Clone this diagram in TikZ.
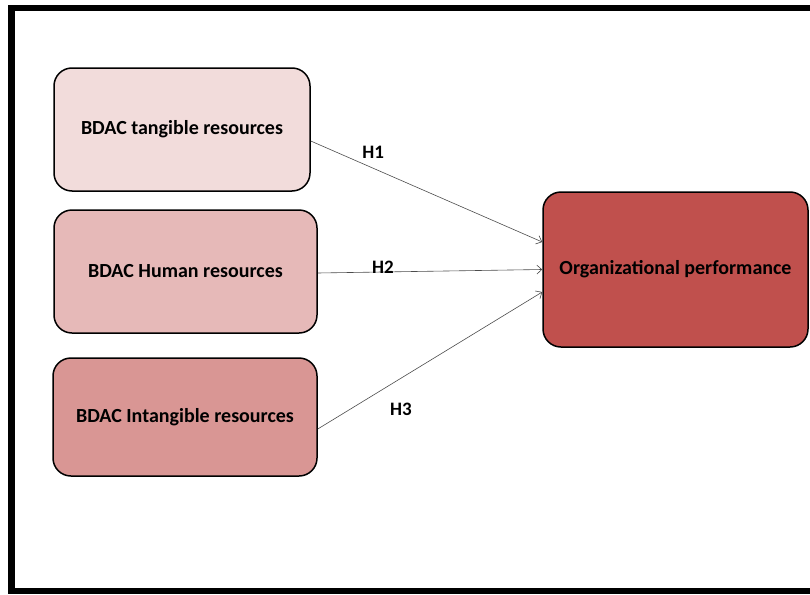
\documentclass[tikz,border=0pt]{standalone}
\usepackage{fontspec}
\setmainfont{Carlito}
\usetikzlibrary{arrows.meta, positioning}
\definecolor{resA}{HTML}{F2DCDB}
\definecolor{resB}{HTML}{E6B9B8}
\definecolor{resC}{HTML}{D99694}
\definecolor{perf}{HTML}{C0504D}
\tikzset{
    >={Straight Barb[length=5pt, width=9pt]}, % open arrow heads
    box/.style={draw=black, line width=1.5pt, rounded corners=18pt, align=center,
        font=\fontsize{20}{23}\selectfont\bfseries}, % sets the properties for each box
    link/.style={draw=black!70, line width=0.6pt}, % the hypothesis arrows
    hyp/.style={font=\fontsize{19}{22}\selectfont\bfseries, inner sep=1pt}, % the H labels
}
\begin{document}
\begin{tikzpicture}[x=1pt, y=-1pt]
            \useasboundingbox (0,0) rectangle (810,594);
            \draw[line width=6.5pt] (830,8) -- (11.5,8) -- (11.5,591) -- (830,591);

            \node[box, fill=resA, minimum width=256pt, minimum height=123pt] (tang) at (182,129.5) {BDAC tangible resources};
            \node[box, fill=resB, minimum width=263pt, minimum height=123pt] (hum) at (185.5,271.5) {BDAC Human resources};
            \node[box, fill=resC, minimum width=264pt, minimum height=118pt] (intang) at (185,417) {BDAC Intangible resources};
            \node[box, fill=perf, minimum width=265pt, minimum height=155pt] (op) at (675.5,269.5) {Organizational performance};

            \draw[link, ->] ([yshift=-11.5pt]tang.east) -- node[hyp, pos=0.27, above=8pt] {H1} ([yshift=27.5pt]op.west);
            \draw[link, ->] ([yshift=-1.5pt]hum.east) -- node[hyp, pos=0.29, anchor=south, inner sep=0pt, yshift=-2pt] {H2} (op.west);
            \draw[link, ->] ([yshift=-12pt]intang.east) -- node[hyp, pos=0.37, below=23pt] {H3} ([yshift=-22.5pt]op.west);
        \end{tikzpicture}
\end{document}
